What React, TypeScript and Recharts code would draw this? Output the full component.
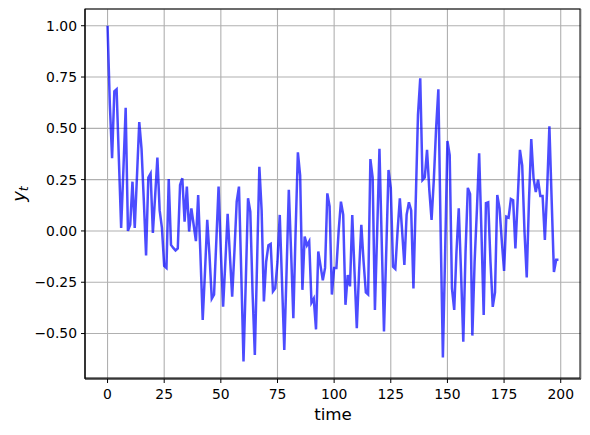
import { LineChart, Line, XAxis, YAxis, CartesianGrid, Label } from 'recharts';

// y_t values, one per time step (t = 0..199)
const yValues: number[] = [
  1.0, 0.62, 0.355, 0.68, 0.69, 0.35, 0.015, 0.3, 0.6, 0.0,
  0.03, 0.24, 0.015, 0.27, 0.53, 0.4, 0.15, -0.12, 0.26, 0.28,
  -0.01, 0.17, 0.357, 0.1, 0.015, -0.17, -0.18, 0.253, -0.068, -0.083,
  -0.095, -0.085, 0.224, 0.257, 0.045, 0.216, -0.003, 0.11, 0.03, -0.05,
  0.175, -0.12, -0.434, -0.2, 0.054, -0.12, -0.33, -0.31, -0.05, 0.216,
  -0.1, -0.369, -0.15, 0.083, -0.12, -0.32, -0.1, 0.143, 0.216, -0.2,
  -0.636, -0.25, 0.159, 0.094, -0.3, -0.604, -0.15, 0.313, 0.1, -0.344,
  -0.15, -0.07, -0.063, -0.295, -0.28, -0.15, 0.078, -0.25, -0.58, -0.2,
  0.2, -0.1, -0.425, 0.0, 0.383, 0.27, -0.287, -0.027, -0.07, -0.05,
  -0.35, -0.33, -0.48, -0.1, -0.17, -0.24, -0.18, 0.183, 0.12, -0.31,
  -0.18, -0.18, 0.0, 0.143, 0.08, -0.36, -0.215, -0.27, 0.078, -0.2,
  -0.474, -0.2, 0.03, -0.15, -0.3, -0.31, 0.35, 0.26, -0.385, 0.0,
  0.4, -0.05, -0.49, -0.1, 0.297, 0.21, -0.174, -0.185, 0.0, 0.159,
  0.0, -0.166, 0.08, 0.14, 0.1, -0.28, 0.14, 0.565, 0.744, 0.248,
  0.26, 0.395, 0.2, 0.054, 0.25, 0.5, 0.69, 0.0, -0.617, -0.1,
  0.438, 0.37, -0.28, -0.385, -0.1, 0.11, -0.2, -0.54, -0.1, 0.21,
  0.18, -0.51, -0.15, 0.1, 0.378, 0.0, -0.41, 0.136, 0.14, -0.15,
  -0.37, -0.3, 0.175, 0.11, -0.05, -0.195, 0.07, 0.065, 0.156, 0.15,
  -0.085, 0.15, 0.395, 0.32, 0.0, -0.227, 0.15, 0.448, 0.257, 0.19,
  0.25, 0.17, 0.17, -0.044, 0.2, 0.51, 0.15, -0.2, -0.14, -0.14,
];

const xTicks = [0, 25, 50, 75, 100, 125, 150, 175, 200];
const yTicks = [-0.5, -0.25, 0, 0.25, 0.5, 0.75, 1.0];

const data = yValues.map((y, t) => ({ time: t, y }));

const FONT = '"DejaVu Sans", sans-serif';

const fmtY = (v: number) => v.toFixed(2).replace('-', '\u2212');

export default function App() {
  return (
    <div style={{ position: 'absolute', left: 0, top: 0, width: 590, height: 435, background: '#fff' }}>
      <LineChart
        width={590}
        height={435}
        data={data}
        margin={{ top: 9, right: 9, left: 25, bottom: 26 }}
      >
        <CartesianGrid stroke="#b0b0b0" strokeWidth={1.1} />
        <XAxis
          dataKey="time"
          type="number"
          domain={[-9.95, 208.95]}
          ticks={xTicks}
          interval={0}
          allowDataOverflow
          height={30}
          tickSize={4}
          tickMargin={6}
          stroke="#000"
          tick={{ fill: '#000', fontSize: 13.9, fontFamily: FONT }}
        >
          <Label
            content={({ viewBox }: any) => (
              <text
                x={viewBox.x + viewBox.width / 2}
                y={420}
                textAnchor="middle"
                fontSize={16.7}
                fontFamily={FONT}
                fill="#000"
              >
                time
              </text>
            )}
          />
        </XAxis>
        <YAxis
          type="number"
          domain={[-0.7215, 1.0815]}
          ticks={yTicks}
          interval={0}
          allowDataOverflow
          width={60}
          tickSize={4}
          tickMargin={4}
          tickFormatter={fmtY}
          stroke="#000"
          tick={{ fill: '#000', fontSize: 13.9, fontFamily: FONT }}
        >
          <Label
            content={({ viewBox }: any) => {
              const cy = viewBox.y + viewBox.height / 2;
              return (
                <text
                  x={25}
                  y={cy}
                  transform={`rotate(-90, 25, ${cy})`}
                  textAnchor="middle"
                  fontSize={18}
                  fontFamily={FONT}
                  fill="#000"
                >
                  <tspan fontStyle="italic">y</tspan>
                  <tspan fontStyle="italic" fontSize={12.6} dy={3}>t</tspan>
                </text>
              );
            }}
          />
        </YAxis>
        <Line
          type="linear"
          dataKey="y"
          stroke="blue"
          strokeOpacity={0.7}
          strokeWidth={2.5}
          dot={false}
          isAnimationActive={false}
        />
      </LineChart>
      {/* full axes frame */}
      <div
        style={{
          position: 'absolute',
          left: 85,
          top: 9,
          width: 496,
          height: 370,
          border: '1px solid #000',
          boxSizing: 'border-box',
          pointerEvents: 'none',
          transform: 'translate(-0.5px, -0.5px)',
        }}
      />
    </div>
  );
}
